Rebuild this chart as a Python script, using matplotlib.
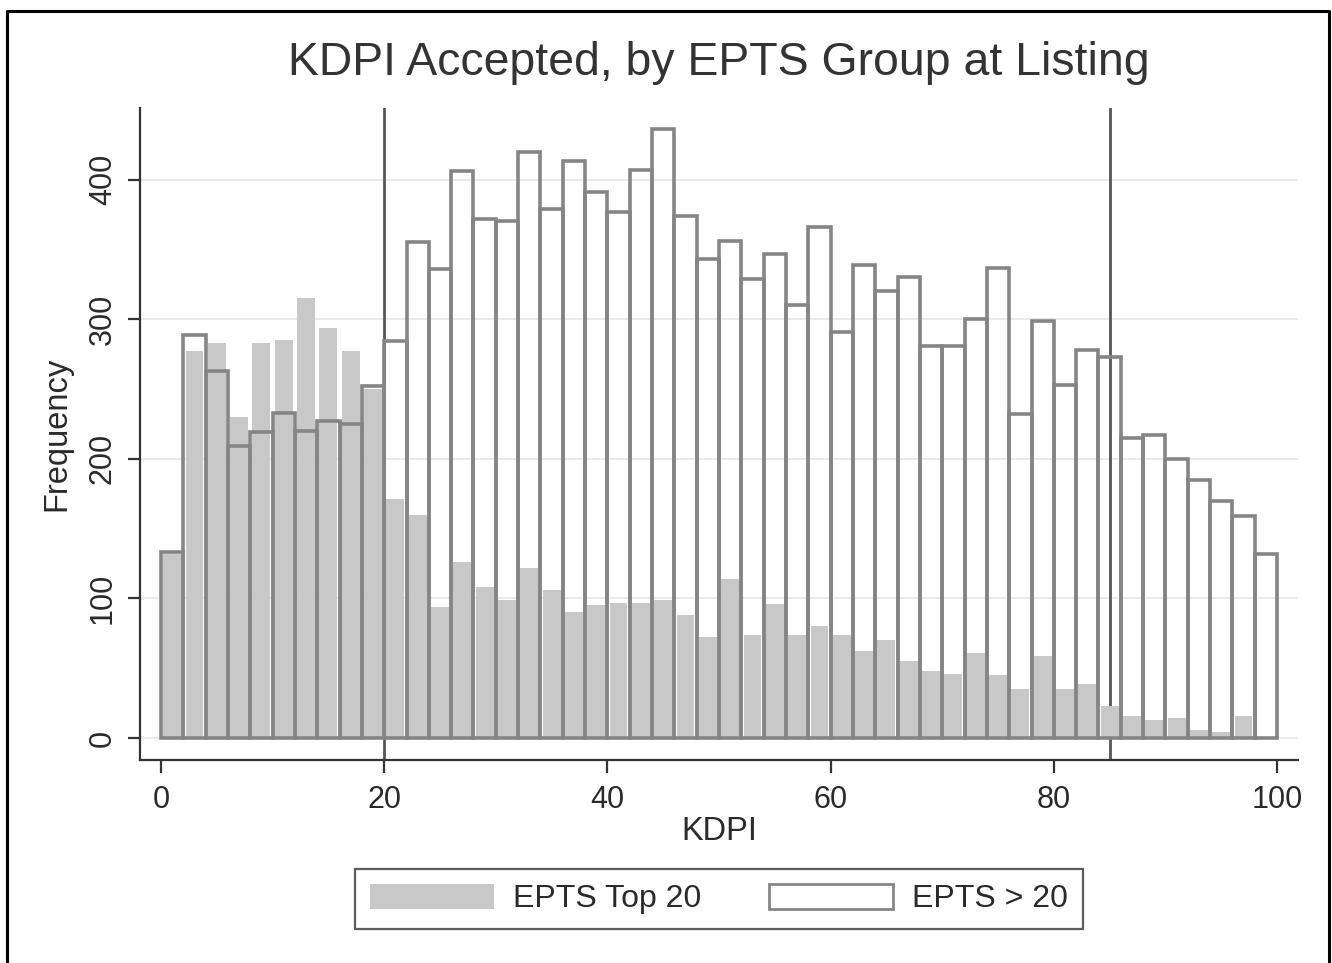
import numpy as np
import matplotlib
matplotlib.use("Agg")
import matplotlib.pyplot as plt
from matplotlib.patches import Patch
from matplotlib.lines import Line2D

# histogram counts, bins of width 2 from 0 to 100
bin_edges = np.arange(0, 101, 2)
top20 = [132, 277, 283, 230, 283, 285, 315, 294, 277, 250,
         171, 160, 94, 126, 108, 99, 122, 106, 90, 95,
         97, 97, 99, 88, 72, 114, 74, 96, 74, 80,
         74, 62, 70, 55, 48, 46, 61, 45, 35, 59,
         35, 39, 23, 16, 13, 14, 6, 4, 16, 1]
gt20 = [133, 289, 263, 209, 219, 233, 220, 227, 225, 252,
        284, 355, 336, 406, 372, 370, 420, 379, 413, 391,
        377, 407, 436, 374, 343, 356, 329, 347, 310, 366,
        291, 339, 320, 330, 281, 281, 300, 337, 232, 299,
        253, 278, 273, 215, 217, 200, 185, 170, 159, 132]
cutoffs = [20, 85]
xticks = [0, 20, 40, 60, 80, 100]
yticks = [0, 100, 200, 300, 400]
labels = ["EPTS Top 20", "EPTS > 20"]

plt.rcParams['font.family'] = ['Liberation Sans', 'DejaVu Sans']

fill_gray = "#c8c8c8"
edge_gray = "#858585"
text_col = "#2a2a2a"

fig = plt.figure(figsize=(13.32, 9.63), dpi=100)
ax = fig.add_axes([0.1051, 0.2108, 0.8694, 0.6771])

centers = (bin_edges[:-1] + bin_edges[1:]) / 2
width = bin_edges[1] - bin_edges[0]

# vertical cutoff lines sit under the bars
for c in cutoffs:
    ax.axvline(c, color="#555555", lw=2.0, zorder=1.5)

ax.bar(centers, top20, width=width * 0.8, color=fill_gray, lw=0, zorder=2)
ax.bar(centers, gt20, width=width, facecolor="none", edgecolor=edge_gray,
       lw=2.6, zorder=3)

ax.set_xlim(-1.88, 101.88)
ax.set_ylim(-15.8, 451.3)
ax.set_xticks(xticks)
ax.set_yticks(yticks)
ax.set_yticklabels([str(v) for v in yticks], rotation=90, va="center")
ax.grid(axis="y", color="#e8e8e8", lw=1.3, zorder=0)
ax.set_axisbelow(True)

for s in ["top", "right"]:
    ax.spines[s].set_visible(False)
for s in ["left", "bottom"]:
    ax.spines[s].set_color("#333333")
    ax.spines[s].set_linewidth(1.6)
ax.tick_params(length=9, width=1.6, color="#333333", labelsize=22,
               labelcolor=text_col)
ax.tick_params(axis="x", pad=9)
ax.tick_params(axis="y", pad=7)

ax.set_xlabel("KDPI", fontsize=23.5, color=text_col)
ax.xaxis.set_label_coords(0.5, -0.11)
ax.xaxis.label.set_va("center")
ax.set_ylabel("Frequency", fontsize=23.5, color=text_col)
ax.yaxis.set_label_coords(-0.0717, 0.5)
ax.yaxis.label.set_va("center")

fig.text(0.5398, 0.9346, "KDPI Accepted, by EPTS Group at Listing",
         ha="center", va="center", fontsize=33.4, color="#333333")

handles = [Patch(facecolor=fill_gray, edgecolor="none"),
           Patch(facecolor="white", edgecolor=edge_gray, lw=2)]
leg = fig.legend(handles, labels, loc="center", bbox_to_anchor=(0.5398, 0.0665),
                 ncol=2, fontsize=23, frameon=True, fancybox=False,
                 handlelength=3.9, handleheight=0.85, handletextpad=0.6,
                 columnspacing=2.1, borderpad=0.45, labelcolor=text_col)
leg.get_frame().set_edgecolor("#333333")
leg.get_frame().set_linewidth(1.6)

# outer frame around the graph (bottom edge is cut off in the original)
fig.add_artist(Line2D([0.0053, 0.0053, 0.9977, 0.9977],
                      [0.0, 0.9886, 0.9886, 0.0],
                      transform=fig.transFigure, color="black", lw=2.2))

fig.savefig("out.png", dpi=100)
